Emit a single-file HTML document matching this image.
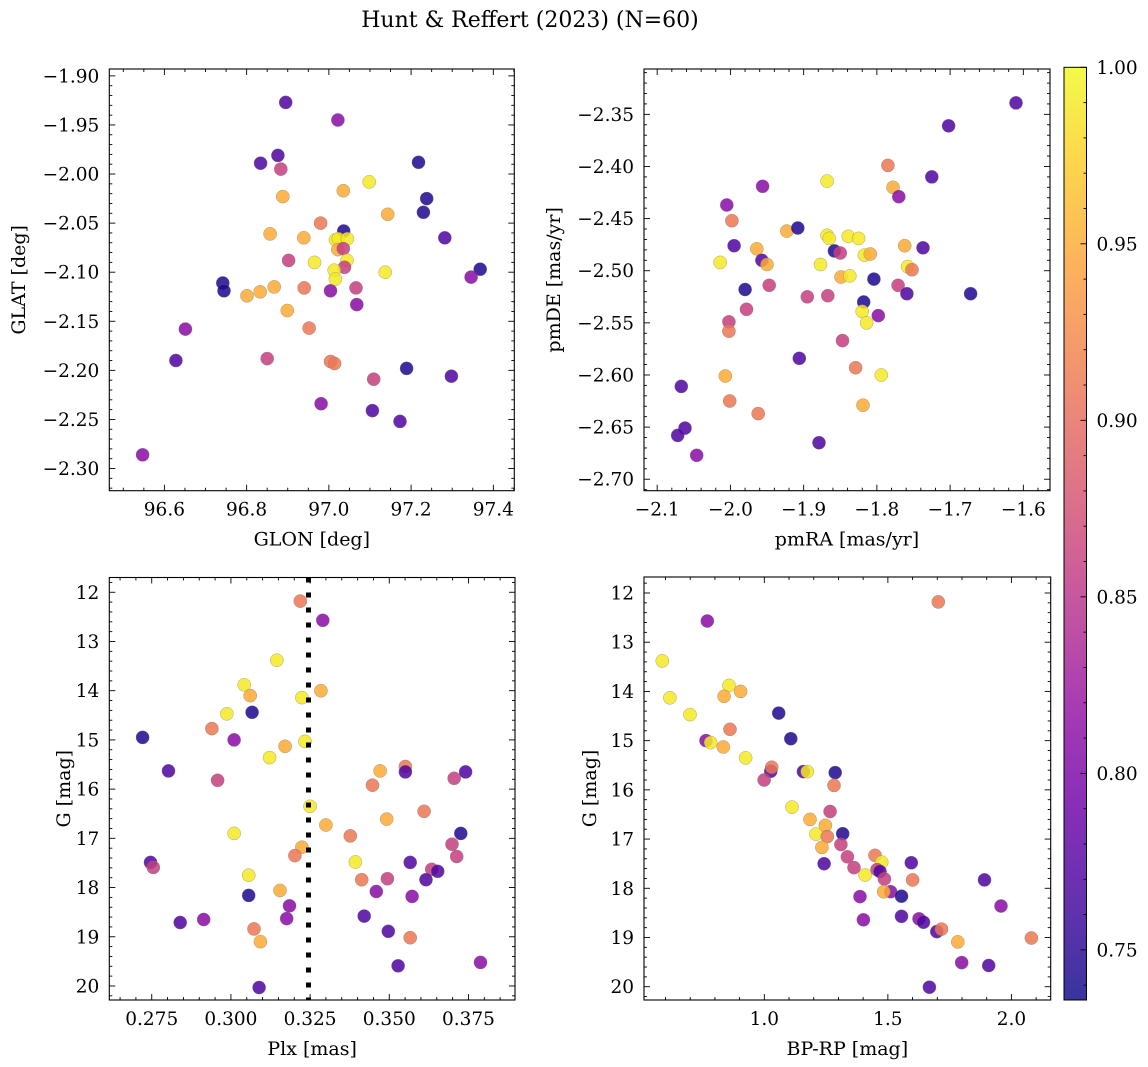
<!DOCTYPE html>
<html><head><meta charset="utf-8">
<style>
html,body{margin:0;padding:0;background:#fff;}
svg{display:block;font-family:"DejaVu Serif","Liberation Serif",serif;}
</style></head>
<body>
<svg id="fig" width="1148" height="1067" viewBox="0 0 1148 1067" xmlns="http://www.w3.org/2000/svg">
<text x="530" y="27" text-anchor="middle" font-size="22">Hunt &amp; Reffert (2023) (N=60)</text>
</svg>
<script>
// ---------- data ----------
const p1Glon=[96.895,97.022,96.876,96.834,96.883,97.218,97.238,97.230,96.888,97.035,97.098,97.143,96.980,96.857,96.939,97.036,97.016,97.023,97.045,97.022,97.035,97.282,96.902,96.965,97.044,97.038,97.013,97.016,97.137,97.368,97.346,96.742,96.745,96.801,96.833,96.867,96.940,97.004,97.066,97.068,96.899,96.952,96.651,96.628,96.850,97.004,97.014,97.189,97.298,97.109,96.981,97.106,97.173,96.547];
const p1Glat=[-1.927,-1.945,-1.981,-1.989,-1.995,-1.988,-2.025,-2.039,-2.023,-2.017,-2.008,-2.041,-2.050,-2.061,-2.065,-2.058,-2.067,-2.066,-2.066,-2.077,-2.076,-2.065,-2.088,-2.090,-2.088,-2.095,-2.098,-2.107,-2.100,-2.097,-2.105,-2.111,-2.119,-2.124,-2.120,-2.115,-2.116,-2.119,-2.116,-2.133,-2.139,-2.157,-2.158,-2.190,-2.188,-2.191,-2.193,-2.198,-2.206,-2.209,-2.234,-2.241,-2.252,-2.286];
const p1Prob=[0.77,0.81,0.77,0.77,0.86,0.745,0.745,0.745,0.95,0.95,0.99,0.95,0.91,0.95,0.95,0.745,0.99,0.99,0.99,0.95,0.86,0.77,0.86,0.99,0.99,0.86,0.99,0.99,0.99,0.745,0.81,0.745,0.745,0.95,0.95,0.95,0.91,0.81,0.86,0.81,0.95,0.91,0.81,0.77,0.86,0.91,0.91,0.745,0.77,0.86,0.81,0.77,0.77,0.81];

const p2PmRA=[-1.610,-1.702,-1.725,-1.785,-1.778,-1.770,-1.868,-1.956,-2.005,-1.998,-1.923,-1.908,-1.868,-1.865,-1.839,-1.825,-1.995,-1.964,-1.762,-1.737,-1.858,-1.850,-1.817,-1.809,-2.014,-1.957,-1.950,-1.877,-1.849,-1.837,-1.758,-1.752,-1.804,-1.947,-1.980,-1.895,-1.867,-1.771,-1.759,-1.672,-1.978,-1.818,-1.820,-1.814,-1.798,-2.002,-2.002,-1.847,-1.906,-1.829,-2.007,-1.794,-2.067,-2.001,-1.962,-1.819,-2.062,-2.072,-2.046,-1.879];
const p2PmDE=[-2.339,-2.361,-2.410,-2.399,-2.420,-2.429,-2.414,-2.419,-2.437,-2.452,-2.462,-2.459,-2.466,-2.469,-2.467,-2.469,-2.476,-2.479,-2.476,-2.478,-2.481,-2.483,-2.485,-2.484,-2.492,-2.490,-2.494,-2.494,-2.506,-2.505,-2.496,-2.499,-2.508,-2.514,-2.518,-2.525,-2.524,-2.514,-2.522,-2.522,-2.537,-2.530,-2.539,-2.550,-2.543,-2.549,-2.558,-2.567,-2.584,-2.593,-2.601,-2.600,-2.611,-2.625,-2.637,-2.629,-2.651,-2.658,-2.677,-2.665];
const p2Prob=[0.77,0.77,0.77,0.91,0.95,0.81,0.99,0.81,0.81,0.91,0.95,0.745,0.99,0.99,0.99,0.99,0.77,0.95,0.95,0.77,0.745,0.86,0.99,0.95,0.99,0.77,0.95,0.99,0.95,0.99,0.99,0.91,0.745,0.86,0.745,0.86,0.86,0.86,0.77,0.745,0.86,0.745,0.99,0.99,0.81,0.86,0.91,0.86,0.77,0.91,0.95,0.99,0.77,0.91,0.91,0.95,0.77,0.77,0.81,0.77];

const p3Plx=[0.3219,0.3290,0.3145,0.3042,0.3061,0.3224,0.3284,0.3067,0.2987,0.2940,0.3010,0.2721,0.3171,0.3122,0.3234,0.2803,0.2958,0.3471,0.3551,0.3551,0.3447,0.3705,0.3741,0.3250,0.3300,0.3492,0.3610,0.3377,0.3010,0.3726,0.3698,0.3713,0.3224,0.3202,0.2746,0.2755,0.3393,0.3566,0.3634,0.3653,0.3494,0.3413,0.3616,0.3056,0.3056,0.3155,0.3459,0.3572,0.3185,0.3176,0.2840,0.2914,0.3073,0.3093,0.3421,0.3497,0.3566,0.3528,0.3788,0.3089];
const p3G=[12.18,12.57,13.38,13.88,14.10,14.14,14.00,14.44,14.47,14.77,15.00,14.95,15.13,15.36,15.03,15.63,15.82,15.63,15.54,15.65,15.92,15.78,15.65,16.35,16.73,16.61,16.45,16.95,16.90,16.90,17.12,17.37,17.18,17.35,17.49,17.59,17.48,17.49,17.63,17.67,17.82,17.84,17.84,17.75,18.16,18.06,18.08,18.18,18.37,18.63,18.71,18.65,18.84,19.10,18.58,18.89,19.02,19.59,19.52,20.03];
const p3Prob=[0.91,0.81,0.99,0.99,0.95,0.99,0.95,0.745,0.99,0.91,0.81,0.745,0.95,0.99,0.99,0.77,0.86,0.95,0.91,0.77,0.91,0.86,0.77,0.99,0.95,0.95,0.91,0.91,0.99,0.745,0.86,0.86,0.95,0.91,0.77,0.86,0.99,0.77,0.86,0.77,0.86,0.91,0.77,0.99,0.745,0.95,0.81,0.81,0.81,0.81,0.77,0.81,0.91,0.95,0.77,0.77,0.91,0.77,0.81,0.77];
const plxMedian=0.3245;

const p4BpRp=[1.704,0.769,0.587,0.857,0.837,0.904,0.618,1.058,0.699,0.861,0.764,1.107,0.783,0.834,0.924,1.026,1.030,1.158,1.174,1.287,0.999,1.282,1.112,1.266,1.185,1.247,1.209,1.317,1.255,1.310,1.233,1.336,1.448,1.242,1.595,1.475,1.363,1.456,1.468,1.486,1.408,1.600,1.891,1.511,1.483,1.555,1.387,1.958,1.555,1.401,1.626,1.644,1.698,1.717,1.783,2.081,1.799,1.908,1.668];
const p4G=[12.18,12.57,13.38,13.88,14.10,14.00,14.13,14.44,14.47,14.77,15.00,14.96,15.04,15.13,15.35,15.62,15.54,15.63,15.63,15.65,15.80,15.91,16.35,16.44,16.60,16.72,16.90,16.89,16.95,17.11,17.17,17.36,17.33,17.50,17.48,17.47,17.58,17.62,17.66,17.81,17.73,17.83,17.83,18.07,18.07,18.16,18.17,18.36,18.57,18.64,18.62,18.69,18.88,18.83,19.09,19.01,19.51,19.57,20.01];
const p4Prob=[0.91,0.81,0.99,0.99,0.95,0.95,0.99,0.745,0.99,0.91,0.81,0.745,0.99,0.95,0.99,0.77,0.91,0.77,0.99,0.745,0.86,0.91,0.99,0.86,0.95,0.95,0.99,0.745,0.91,0.86,0.95,0.86,0.91,0.77,0.77,0.99,0.86,0.86,0.77,0.86,0.99,0.91,0.77,0.81,0.95,0.745,0.81,0.81,0.77,0.81,0.81,0.77,0.77,0.91,0.95,0.91,0.81,0.77,0.77];

const p1XTicks=[96.6,96.8,97.0,97.2,97.4];
const p1YTicks=[-1.90,-1.95,-2.00,-2.05,-2.10,-2.15,-2.20,-2.25,-2.30];
const p2XTicks=[-2.1,-2.0,-1.9,-1.8,-1.7,-1.6];
const p2YTicks=[-2.35,-2.40,-2.45,-2.50,-2.55,-2.60,-2.65,-2.70];
const p3XTicks=[0.275,0.300,0.325,0.350,0.375];
const gTicks=[12,13,14,15,16,17,18,19,20];
const p4XTicks=[1.0,1.5,2.0];
const cbTicks=[0.75,0.80,0.85,0.90,0.95,1.00];
const probMin=0.7358, probMax=1.0;

// ---------- helpers ----------
const NS="http://www.w3.org/2000/svg";
const svg=document.getElementById('fig');
const TICKFS=18.5, LABFS=19;
function mk(tag,attrs,parent){const e=document.createElementNS(NS,tag);for(const k in attrs)e.setAttribute(k,attrs[k]);(parent||svg).appendChild(e);return e;}
const plasma=[[13,8,135],[65,4,157],[106,0,168],[143,13,164],[177,42,144],[204,71,120],[225,100,98],[242,132,75],[252,166,54],[252,206,37],[240,249,33]];
function cmap(v){let t=(v-probMin)/(probMax-probMin);t=Math.max(0,Math.min(1,t));const f=t*10,i=Math.min(9,Math.floor(f)),r=f-i;const a=plasma[i],b=plasma[i+1];return 'rgb('+a.map((c,k)=>Math.round(c+(b[k]-c)*r)).join(',')+')';}
function fmt(v,d){const s=Math.abs(v).toFixed(d);return (v<0?'\u2212':'')+s;}

function panel(o){
  const g=mk('g',{});
  
  
  const sx=v=>o.x0+(v-o.xd[0])/(o.xd[1]-o.xd[0])*(o.x1-o.x0);
  const sy=v=>o.y0+(v-o.yd[0])/(o.yd[1]-o.yd[0])*(o.y1-o.y0);
  for(let i=0;i<o.xs.length;i++){
    const c=mk('circle',{cx:sx(o.xs[i]).toFixed(1),cy:sy(o.ys[i]).toFixed(1),r:6.6,fill:cmap(o.cs[i]),'fill-opacity':0.85,stroke:'#777','stroke-opacity':0.6,'stroke-width':0.5},g);
    
    
  }
  if(o.extra)o.extra(g,sx,sy);
  const fr=mk('rect',{x:o.x0,y:Math.min(o.y0,o.y1),width:o.x1-o.x0,height:Math.abs(o.y1-o.y0),fill:'none',stroke:'#000','stroke-width':1.1},g);
  
  
  const top=Math.min(o.y0,o.y1),bot=Math.max(o.y0,o.y1);
  const xlo=Math.min(...o.xd),xhi=Math.max(...o.xd);
  for(let k=Math.ceil(xlo/o.xminor-1e-6);k*o.xminor<=xhi+1e-9;k++){
    const v=k*o.xminor,x=sx(v);
    const major=o.xt.some(t=>Math.abs(t-v)<o.xminor/10);const L=major?6:3;
    mk('line',{x1:x,x2:x,y1:bot,y2:bot-L,stroke:'#000','stroke-width':0.9},g);
    mk('line',{x1:x,x2:x,y1:top,y2:top+L,stroke:'#000','stroke-width':0.9},g);
  }
  o.xt.forEach(t=>{const tx=mk('text',{x:sx(t),y:bot+25,'text-anchor':'middle','font-size':TICKFS},g);tx.textContent=fmt(t,o.xdec);
    });
  const ylo=Math.min(...o.yd),yhi=Math.max(...o.yd);
  for(let k=Math.ceil(ylo/o.yminor-1e-6);k*o.yminor<=yhi+1e-9;k++){
    const v=k*o.yminor,y=sy(v);
    const major=o.yt.some(t=>Math.abs(t-v)<o.yminor/10);const L=major?6:3;
    mk('line',{x1:o.x0,x2:o.x0+L,y1:y,y2:y,stroke:'#000','stroke-width':0.9},g);
    mk('line',{x1:o.x1,x2:o.x1-L,y1:y,y2:y,stroke:'#000','stroke-width':0.9},g);
  }
  o.yt.forEach(t=>{const tx=mk('text',{x:o.x0-10,y:sy(t)+6.5,'text-anchor':'end','font-size':TICKFS},g);tx.textContent=fmt(t,o.ydec);
    });
  const xl=mk('text',{x:(o.x0+o.x1)/2,y:bot+55,'text-anchor':'middle','font-size':LABFS},g);xl.textContent=o.xlab;
  
  const yl=mk('text',{x:0,y:0,'text-anchor':'middle','font-size':LABFS,transform:'translate('+o.ylx+','+((top+bot)/2)+') rotate(-90)'},g);yl.textContent=o.ylab;
  
}

panel({name:'glon-glat-panel',x0:109.3,x1:514.3,y0:69,y1:490.7,xd:[96.466,97.451],yd:[-1.893,-2.3226],xs:p1Glon,ys:p1Glat,cs:p1Prob,xt:p1XTicks,yt:p1YTicks,xminor:0.05,yminor:0.01,xdec:1,ydec:2,xlab:'GLON [deg]',ylab:'GLAT [deg]',ylx:25});
panel({name:'pm-panel',x0:644,x1:1050,y0:69,y1:490.7,xd:[-2.118,-1.5636],yd:[-2.3065,-2.711],xs:p2PmRA,ys:p2PmDE,cs:p2Prob,xt:p2XTicks,yt:p2YTicks,xminor:0.02,yminor:0.01,xdec:1,ydec:2,xlab:'pmRA [mas/yr]',ylab:'pmDE [mas/yr]',ylx:560});
panel({name:'plx-g-panel',x0:109.3,x1:515,y0:577.5,y1:1000,xd:[0.2616,0.3897],yd:[11.70,20.285],xs:p3Plx,ys:p3G,cs:p3Prob,xt:p3XTicks,yt:gTicks,xminor:0.005,yminor:0.2,xdec:3,ydec:0,xlab:'Plx [mas]',ylab:'G [mag]',ylx:70,
  extra:(g,sx,sy)=>{const x=sx(plxMedian);const l=mk('line',{x1:x,x2:x,y1:577.5,y2:1000,stroke:'#000','stroke-width':5,'stroke-dasharray':'5 10'},g);
    }});
panel({name:'cmd-panel',x0:644,x1:1050.7,y0:577,y1:1000,xd:[0.513,2.159],yd:[11.675,20.27],xs:p4BpRp,ys:p4G,cs:p4Prob,xt:p4XTicks,yt:gTicks,xminor:0.1,yminor:0.2,xdec:1,ydec:0,xlab:'BP-RP [mag]',ylab:'G [mag]',ylx:596});

(function(){
  const cb=mk('g',{});
  
  
  const x0=1064,x1=1086.5,y0=67.3,y1=1000;
  const defs=mk('defs',{},cb);
  const lg=mk('linearGradient',{id:'cbg',x1:0,y1:1,x2:0,y2:0},defs);
  plasma.forEach((c,i)=>mk('stop',{offset:(i/10),'stop-color':'rgb('+c.join(',')+')'},lg));
  mk('rect',{x:x0,y:y0,width:x1-x0,height:y1-y0,fill:'url(#cbg)','fill-opacity':0.82},cb);
  mk('rect',{x:x0,y:y0,width:x1-x0,height:y1-y0,fill:'none',stroke:'#000','stroke-width':1},cb);
  const sy=v=>y1-(v-probMin)/(probMax-probMin)*(y1-y0);
  for(let k=74;k<=100;k++){const v=k/100;if(v<probMin)continue;const major=cbTicks.some(t=>Math.abs(t-v)<1e-6);const y=sy(v);
    mk('line',{x1:x1,x2:x1-(major?6:3),y1:y,y2:y,stroke:'#000','stroke-width':0.9},cb);}
  cbTicks.forEach(t=>{const tx=mk('text',{x:x1+10,y:sy(t)+6.5,'font-size':TICKFS},cb);tx.textContent=t.toFixed(2);
    });
})();
</script>
</body></html>
